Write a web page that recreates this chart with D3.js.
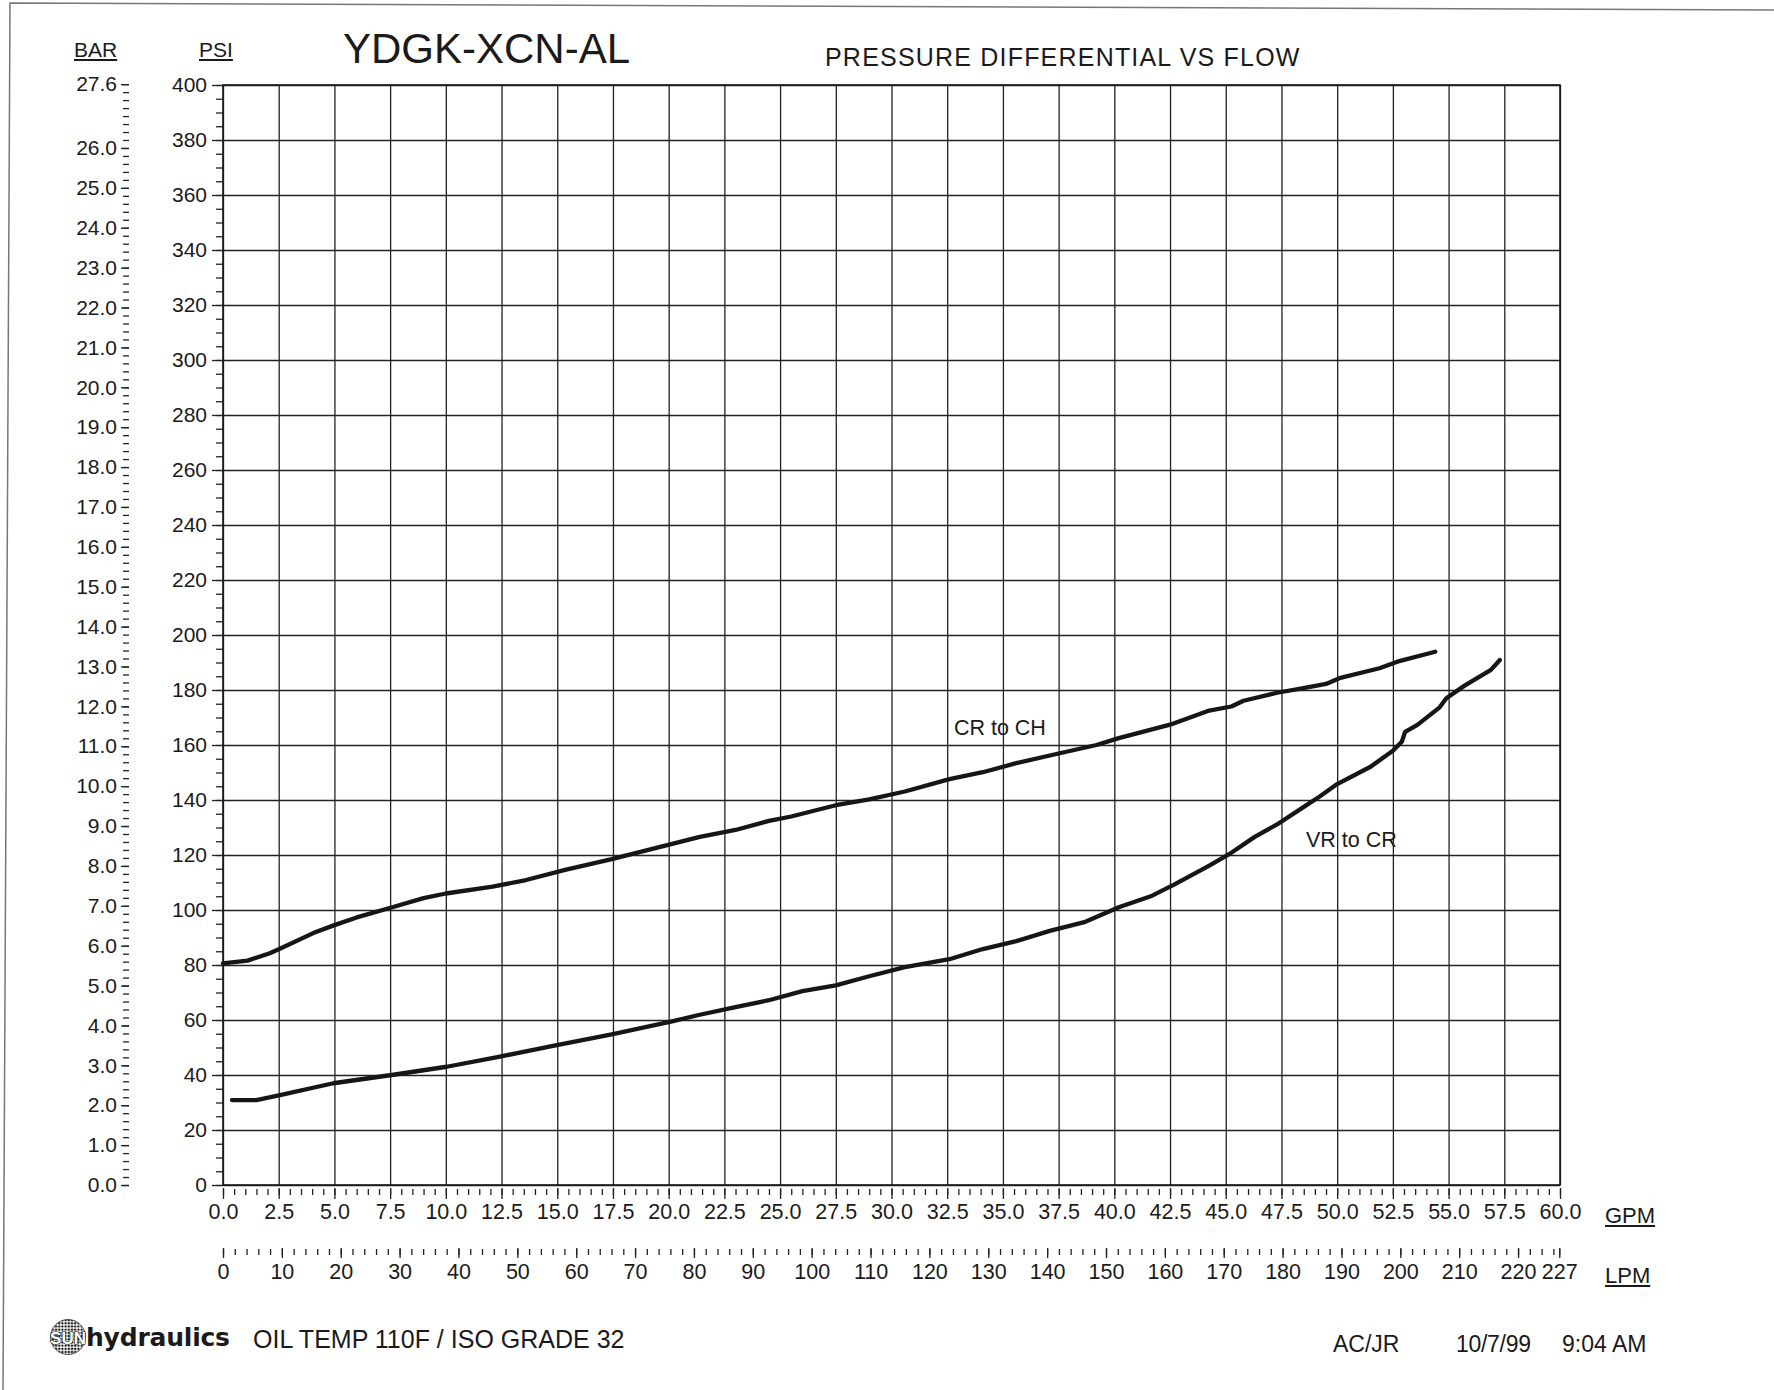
<!doctype html>
<html>
  <head>
    <meta charset="UTF-8"/>
    <title>YDGK-XCN-AL</title>
    <script src="https://d3js.org/d3.v7.min.js"></script>
    <style>
      body {
          margin: 0;
          padding: 0;
          background: #fff;
      }
      svg text {
          font-family: "Liberation Sans", Arial, sans-serif;
          fill: #1a1a1a;
      }
      .grid line {
          stroke: #3a3a3a;
          stroke-width: 1.3;
      }
      .tick line {
          stroke: #222;
          stroke-width: 1.3;
      }
      .curve {
          fill: none;
          stroke: #161616;
          stroke-width: 4.3;
          stroke-linejoin: round;
          stroke-linecap: round;
      }
    </style>
  </head>
  <body>
    <svg id="chart" width="1774" height="1390"></svg>
    <script>
      // readings: flow in GPM, pressure drop in PSI
      const gpmCrCh = [0, 1.1, 2.1, 2.6, 4.05, 5.0, 6.0, 7.6, 9.0, 10.0, 12.1, 13.6, 15.35, 17.4, 19.4,
        21.4, 23.0, 24.5, 25.5, 27.5, 29.0, 30.6, 32.6, 34.1, 35.6, 37.6, 39.2, 40.2, 42.5, 44.2,
        45.25, 45.8, 47.3, 48.3, 49.5, 50.1, 51.9, 52.7, 54.4];
      const psiCrCh = [80.6, 81.6, 84.3, 86.1, 91.6, 94.5, 97.3, 101, 104.3, 106, 108.5, 110.9, 114.6, 118.4, 122.5,
        126.6, 129.1, 132.4, 134, 138.1, 140.2, 143.1, 147.6, 150.1, 153.4, 157.1, 160, 162.5, 167.4, 172.4,
        174, 176.1, 179, 180.4, 182.2, 184.3, 187.9, 190.3, 193.9];

      const gpmVrCr = [0.4, 1.5, 2.56, 4.95, 7.57, 10.04, 12.43, 14.98, 17.5, 20.1, 21.4, 23.0, 24.5, 26.0,
        27.5, 29.0, 30.6, 32.6, 34.1, 35.6, 37.1, 38.7, 40.2, 41.7, 42.7, 44.2, 45.25, 46.3, 47.3, 48.3,
        49.2, 50.0, 51.5, 52.5, 52.9, 53.05, 53.6, 54.6, 54.9, 55.7, 56.9, 57.3];
      const psiVrCr = [30.9, 30.9, 32.7, 37, 40, 43, 46.7, 50.9, 54.9, 59.4, 61.9, 64.7, 67.2, 70.5,
        72.6, 75.9, 79.2, 82.1, 85.8, 88.7, 92.4, 95.7, 101, 105.2, 109.3, 115.9, 120.8, 126.6, 131.1, 136.4,
        141.2, 145.8, 152.1, 157.9, 161.2, 164.8, 167.3, 173.7, 177, 181.5, 187.3, 190.9];

      const curveNames = ["CR to CH", "VR to CR"];
      const curveLabelAt = [[32.8, 163.5], [48.6, 123]];

      const gpmLabels = d3.range(0, 60.01, 2.5);
      const lpmLabels = [0, 10, 20, 30, 40, 50, 60, 70, 80, 90, 100, 110, 120, 130, 140, 150, 160,
        170, 180, 190, 200, 210, 220, 227];
      const psiLabels = d3.range(0, 401, 20);
      const barLabels = [0, 1, 2, 3, 4, 5, 6, 7, 8, 9, 10, 11, 12, 13, 14, 15, 16, 17, 18, 19, 20,
        21, 22, 23, 24, 25, 26, 27.6];

      const PSI_PER_BAR = 14.5038;
      const LPM_PER_GPM = 3.78541;

      const svg = d3.select("#chart");
      const L = 223, R = 1560, T = 85, B = 1185;

      const x = d3.scaleLinear().domain([0, 60]).range([L, R]);
      const y = d3.scaleLinear().domain([0, 400]).range([B, T]);
      const yBar = d3.scaleLinear().domain([0, 400 / PSI_PER_BAR]).range([B, T]);
      const xLpm = d3.scaleLinear().domain([0, 60 * LPM_PER_GPM]).range([L, R]);

      // page edge of the scan
      svg.append("path")
        .attr("d", "M3,1390 L10,3 L1774,10")
        .attr("fill", "none").attr("stroke", "#777").attr("stroke-width", 1.5);

      // grid
      svg.append("g").attr("class", "grid")
        .attr("transform", `translate(0,${B})`)
        .call(d3.axisBottom(x).tickValues(gpmLabels).tickSize(-(B - T)).tickFormat(""))
        .call(g => g.select(".domain").remove());
      svg.append("g").attr("class", "grid")
        .attr("transform", `translate(${L},0)`)
        .call(d3.axisLeft(y).tickValues(psiLabels).tickSize(-(R - L)).tickFormat(""))
        .call(g => g.select(".domain").remove());
      svg.append("rect")
        .attr("x", L).attr("y", T).attr("width", R - L).attr("height", B - T)
        .attr("fill", "none").attr("stroke", "#1a1a1a").attr("stroke-width", 1.6);

      const styleAxis = (g, size) => {
        g.select(".domain").remove();
        g.selectAll("text").style("font-size", size + "px").attr("fill", "#1a1a1a");
      };

      // PSI axis
      svg.append("g")
        .attr("transform", `translate(${L},0)`)
        .call(d3.axisLeft(y).tickValues(d3.range(0, 401, 5)).tickSize(7).tickFormat(""))
        .call(g => styleAxis(g, 21));
      svg.append("g")
        .attr("transform", `translate(${L},0)`)
        .call(d3.axisLeft(y).tickValues(psiLabels).tickSize(11).tickPadding(5))
        .call(g => styleAxis(g, 21));

      // BAR axis
      svg.append("g")
        .attr("transform", "translate(129,0)")
        .call(d3.axisLeft(yBar).tickValues(d3.range(0, 27.61, 0.2)).tickSize(6).tickFormat(""))
        .call(g => styleAxis(g, 21));
      svg.append("g")
        .attr("transform", "translate(129,0)")
        .call(d3.axisLeft(yBar).tickValues(barLabels).tickSize(8).tickPadding(4).tickFormat(d3.format(".1f")))
        .call(g => styleAxis(g, 21));

      // GPM axis
      svg.append("g")
        .attr("transform", `translate(0,${B + 4})`)
        .call(d3.axisBottom(x).tickValues(d3.range(0, 60.01, 0.5)).tickSize(6).tickFormat(""))
        .call(g => styleAxis(g, 21.5));
      svg.append("g")
        .attr("transform", `translate(0,${B + 3})`)
        .call(d3.axisBottom(x).tickValues(gpmLabels).tickSize(11).tickPadding(5).tickFormat(d3.format(".1f")))
        .call(g => styleAxis(g, 21.5));

      // LPM axis
      const lpmMinor = d3.range(0, 227, 2).concat([227]);
      svg.append("g")
        .attr("transform", "translate(0,1249)")
        .call(d3.axisBottom(xLpm).tickValues(lpmMinor).tickSize(6).tickFormat(""))
        .call(g => styleAxis(g, 21.5));
      svg.append("g")
        .attr("transform", "translate(0,1248)")
        .call(d3.axisBottom(xLpm).tickValues(lpmLabels).tickSize(10).tickPadding(6))
        .call(g => styleAxis(g, 21.5));

      // curves
      const line = d3.line().x(d => x(d[0])).y(d => y(d[1])).curve(d3.curveLinear);
      svg.append("path").attr("class", "curve").attr("d", line(d3.zip(gpmCrCh, psiCrCh)));
      svg.append("path").attr("class", "curve").attr("d", line(d3.zip(gpmVrCr, psiVrCr)));

      svg.selectAll(".curve-label").data(curveNames).join("text")
        .attr("class", "curve-label")
        .attr("x", (d, i) => x(curveLabelAt[i][0]))
        .attr("y", (d, i) => y(curveLabelAt[i][1]))
        .style("font-size", "21.5px")
        .text(d => d);

      // headings
      const underlined = (txt, px, py, size) => {
        const t = svg.append("text").attr("x", px).attr("y", py).style("font-size", size + "px").text(txt);
        const w = t.node().getComputedTextLength();
        svg.append("line").attr("x1", px).attr("x2", px + w)
          .attr("y1", py + 3).attr("y2", py + 3)
          .attr("stroke", "#1a1a1a").attr("stroke-width", 1.8);
      };
      underlined("BAR", 74, 57, 21);
      underlined("PSI", 199, 57, 21);
      underlined("GPM", 1605, 1223, 22);
      underlined("LPM", 1605, 1283, 22);

      svg.append("text").attr("x", 343).attr("y", 63).style("font-size", "42px").text("YDGK-XCN-AL");
      svg.append("text").attr("x", 825).attr("y", 66).style("font-size", "25px")
        .style("letter-spacing", "1.2px").text("PRESSURE DIFFERENTIAL VS FLOW");

      // footer
      const defs = svg.append("defs");
      const pat = defs.append("pattern").attr("id", "dots")
        .attr("width", 3.2).attr("height", 3.2).attr("patternUnits", "userSpaceOnUse");
      pat.append("rect").attr("width", 3.2).attr("height", 3.2).attr("fill", "#fff");
      pat.append("circle").attr("cx", 1.6).attr("cy", 1.6).attr("r", 1.25).attr("fill", "#1a1a1a");
      svg.append("circle").attr("cx", 68).attr("cy", 1337).attr("r", 17.5)
        .attr("fill", "url(#dots)").attr("stroke", "#333").attr("stroke-width", 0.8);
      svg.append("text").attr("x", 68).attr("y", 1344).attr("text-anchor", "middle")
        .style("font-size", "17px").style("font-weight", "bold").style("fill", "#fff")
        .attr("stroke", "#111").attr("stroke-width", 1.2).attr("paint-order", "stroke")
        .text("SUN");
      svg.append("text").attr("x", 86).attr("y", 1346)
        .style("font-family", "'DejaVu Sans', sans-serif").style("font-size", "25px")
        .style("font-weight", "bold").attr("textLength", 144).text("hydraulics");

      svg.append("text").attr("x", 253).attr("y", 1348).style("font-size", "25px")
        .text("OIL TEMP 110F / ISO GRADE 32");
      svg.append("text").attr("x", 1333).attr("y", 1352).style("font-size", "23px").text("AC/JR");
      svg.append("text").attr("x", 1456).attr("y", 1352).style("font-size", "23px")
        .attr("textLength", 75).text("10/7/99");
      svg.append("text").attr("x", 1562).attr("y", 1352).style("font-size", "23px").text("9:04 AM");
    </script>
  </body>
</html>
